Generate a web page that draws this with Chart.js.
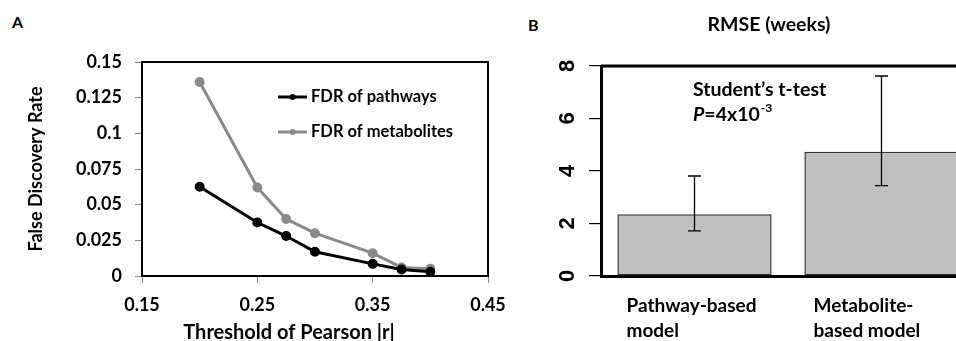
<!DOCTYPE html>
<html>
<head>
<meta charset="utf-8">
<script src="https://cdn.jsdelivr.net/npm/chart.js@4.4.1/dist/chart.umd.min.js"></script>
<style>
  html, body { margin: 0; padding: 0; background: #fff; overflow: hidden; }
  body { width: 956px; height: 341px; position: relative; font-family: Lato, sans-serif; }
  .panel { position: absolute; top: 0; }
  .tag { position: absolute; font: bold 16px Lato, sans-serif; }
</style>
</head>
<body>
<div class="tag" style="left:12px; top:12px;">A</div>
<div class="tag" style="left:528px; top:15px;">B</div>
<div class="panel" style="left:0;"><canvas id="fdrChart" width="520" height="341"></canvas></div>
<div class="panel" style="left:520px;"><canvas id="rmseChart" width="460" height="341"></canvas></div>
<script>
// Panel A data
var thresholds = [0.2, 0.25, 0.275, 0.3, 0.35, 0.375, 0.4];
var fdrPathways = [0.0625, 0.0375, 0.028, 0.017, 0.0085, 0.0045, 0.003];
var fdrMetabolites = [0.136, 0.062, 0.04, 0.03, 0.016, 0.006, 0.005];
var xTicksA = [0.15, 0.25, 0.35, 0.45];
var yTicksA = [0, 0.025, 0.05, 0.075, 0.1, 0.125, 0.15];

// Panel B data
var models = [['Pathway-based', 'model'], ['Metabolite-', 'based model']];
var rmse = [2.35, 4.73];
var rmseLow = [1.72, 3.44];
var rmseHigh = [3.81, 7.62];
var yTicksB = [0, 2, 4, 6, 8];

Chart.defaults.font.family = 'Lato, sans-serif';
Chart.defaults.color = '#000';

function pts(xs, ys) {
  return xs.map(function (x, i) { return { x: x, y: ys[i] }; });
}

// box round the plot area of A, legend inside it and the x title
var frameA = {
  id: 'frameA',
  afterDraw: function (chart) {
    var a = chart.chartArea, ctx = chart.ctx;
    ctx.save();
    ctx.strokeStyle = '#000';
    ctx.lineWidth = 2;
    ctx.strokeRect(a.left, a.top, a.right - a.left, a.bottom - a.top);

    // legend
    ctx.font = 'bold 16.5px Lato, sans-serif';
    ctx.textBaseline = 'middle';
    chart.data.datasets.forEach(function (ds, i) {
      var x0 = a.left + 136, y = a.top + 35 + 35 * i;
      ctx.strokeStyle = ds.borderColor;
      ctx.lineWidth = 3;
      ctx.beginPath();
      ctx.moveTo(x0, y);
      ctx.lineTo(x0 + 29, y);
      ctx.stroke();
      ctx.fillStyle = ds.borderColor;
      ctx.beginPath();
      ctx.arc(x0 + 14.5, y, 3, 0, Math.PI * 2);
      ctx.fill();
      ctx.fillStyle = '#000';
      ctx.fillText(ds.label, x0 + 33, y);
    });

    // x title
    ctx.font = 'bold 20px Lato, sans-serif';
    ctx.textAlign = 'center';
    ctx.textBaseline = 'alphabetic';
    ctx.fillText('Threshold of Pearson |r|', 289, 339);
    ctx.restore();
  }
};

new Chart(document.getElementById('fdrChart').getContext('2d'), {
  type: 'line',
  data: {
    datasets: [
      {
        label: 'FDR of pathways',
        data: pts(thresholds, fdrPathways),
        borderColor: '#000000',
        backgroundColor: '#000000',
        borderWidth: 3,
        pointRadius: 3.5,
        pointHoverRadius: 3.5,
        fill: false
      },
      {
        label: 'FDR of metabolites',
        data: pts(thresholds, fdrMetabolites),
        borderColor: '#8a8a8a',
        backgroundColor: '#8a8a8a',
        borderWidth: 3,
        pointRadius: 3.5,
        pointHoverRadius: 3.5,
        fill: false
      }
    ]
  },
  options: {
    responsive: false,
    animation: false,
    layout: { padding: { top: 62, left: 10, right: 32, bottom: 0 } },
    plugins: { legend: { display: false }, tooltip: { enabled: false } },
    scales: {
      x: {
        type: 'linear',
        min: 0.15,
        max: 0.45,
        afterBuildTicks: function (s) { s.ticks = xTicksA.map(function (v) { return { value: v }; }); },
        afterFit: function (s) { s.height = 65; },
        ticks: {
          font: { size: 18, weight: 'bold' },
          padding: 11,
          maxRotation: 0,
          callback: function (v) { return String(v); }
        },
        grid: { drawOnChartArea: false, tickLength: 7, color: '#888' },
        border: { display: false }
      },
      y: {
        min: 0,
        max: 0.15,
        afterBuildTicks: function (s) { s.ticks = yTicksA.map(function (v) { return { value: v }; }); },
        afterFit: function (s) { s.width = 132; },
        ticks: {
          font: { size: 18, weight: 'bold' },
          padding: 13,
          callback: function (v) { return String(v); }
        },
        grid: { drawOnChartArea: false, tickLength: 7, color: '#888' },
        border: { display: false },
        title: {
          display: true,
          text: 'False Discovery Rate',
          font: { size: 18, weight: 'bold' },
          padding: { top: 15, bottom: 0 }
        }
      }
    }
  },
  plugins: [frameA]
});

// error bars, top border and texts of panel B
var extrasB = {
  id: 'extrasB',
  afterDatasetsDraw: function (chart) {
    var ctx = chart.ctx, y = chart.scales.y, a = chart.chartArea;
    var meta = chart.getDatasetMeta(0);
    ctx.save();
    ctx.strokeStyle = '#000';
    ctx.lineWidth = 1.3;
    meta.data.forEach(function (bar, i) {
      var top = y.getPixelForValue(rmseHigh[i]);
      var bot = y.getPixelForValue(rmseLow[i]);
      ctx.beginPath();
      ctx.moveTo(bar.x, top); ctx.lineTo(bar.x, bot);
      ctx.moveTo(bar.x - 6.5, top); ctx.lineTo(bar.x + 6.5, top);
      ctx.moveTo(bar.x - 6.5, bot); ctx.lineTo(bar.x + 6.5, bot);
      ctx.stroke();
    });

    // top edge of the box
    ctx.lineWidth = 3;
    ctx.beginPath();
    ctx.moveTo(a.left, a.top);
    ctx.lineTo(a.right, a.top);
    ctx.stroke();

    ctx.fillStyle = '#000';
    ctx.textBaseline = 'alphabetic';
    ctx.font = 'bold 19.5px Lato, sans-serif';
    ctx.textAlign = 'center';
    ctx.fillText('RMSE (weeks)', 249, 31);

    ctx.textAlign = 'left';
    ctx.font = 'bold 19.5px Lato, sans-serif';
    ctx.fillText('Student\u2019s t-test', 173, 96);
    ctx.font = 'italic bold 19.5px Lato, sans-serif';
    ctx.fillText('P', 173, 121);
    var w = ctx.measureText('P').width;
    ctx.font = 'bold 19.5px Lato, sans-serif';
    ctx.fillText('=4x10', 173 + w, 121);
    var w2 = ctx.measureText('=4x10').width;
    ctx.font = 'bold 12px Lato, sans-serif';
    ctx.fillText('-3', 173 + w + w2 + 1, 112);
    ctx.restore();
  }
};

new Chart(document.getElementById('rmseChart').getContext('2d'), {
  type: 'bar',
  data: {
    labels: models,
    datasets: [{
      data: rmse,
      backgroundColor: '#c0c0c0',
      borderColor: '#333333',
      borderWidth: 1.5,
      borderSkipped: false,
      categoryPercentage: 1,
      barPercentage: 0.825
    }]
  },
  options: {
    responsive: false,
    animation: false,
    layout: { padding: { top: 66, left: 0, right: 5, bottom: 0 } },
    plugins: { legend: { display: false }, tooltip: { enabled: false } },
    scales: {
      x: {
        afterFit: function (s) { s.height = 65; s.paddingLeft = 0; s.paddingRight = 0; },
        ticks: {
          font: { size: 19, weight: 'bold', lineHeight: 1.3 },
          align: 'start',
          labelOffset: -68,
          padding: 10,
          maxRotation: 0
        },
        grid: { display: false },
        border: { color: '#000', width: 3 }
      },
      y: {
        min: 0,
        max: 8,
        afterBuildTicks: function (s) { s.ticks = yTicksB.map(function (v) { return { value: v }; }); },
        afterFit: function (s) { s.width = 81; },
        ticks: {
          font: { family: 'Liberation Sans', size: 22, weight: 'bold' },
          minRotation: 90,
          maxRotation: 90,
          crossAlign: 'center',
          padding: 15
        },
        grid: { drawOnChartArea: false, tickLength: 12, color: '#000', lineWidth: 1.2 },
        border: { color: '#000', width: 3 }
      }
    }
  },
  plugins: [extrasB]
});
</script>
</body>
</html>
